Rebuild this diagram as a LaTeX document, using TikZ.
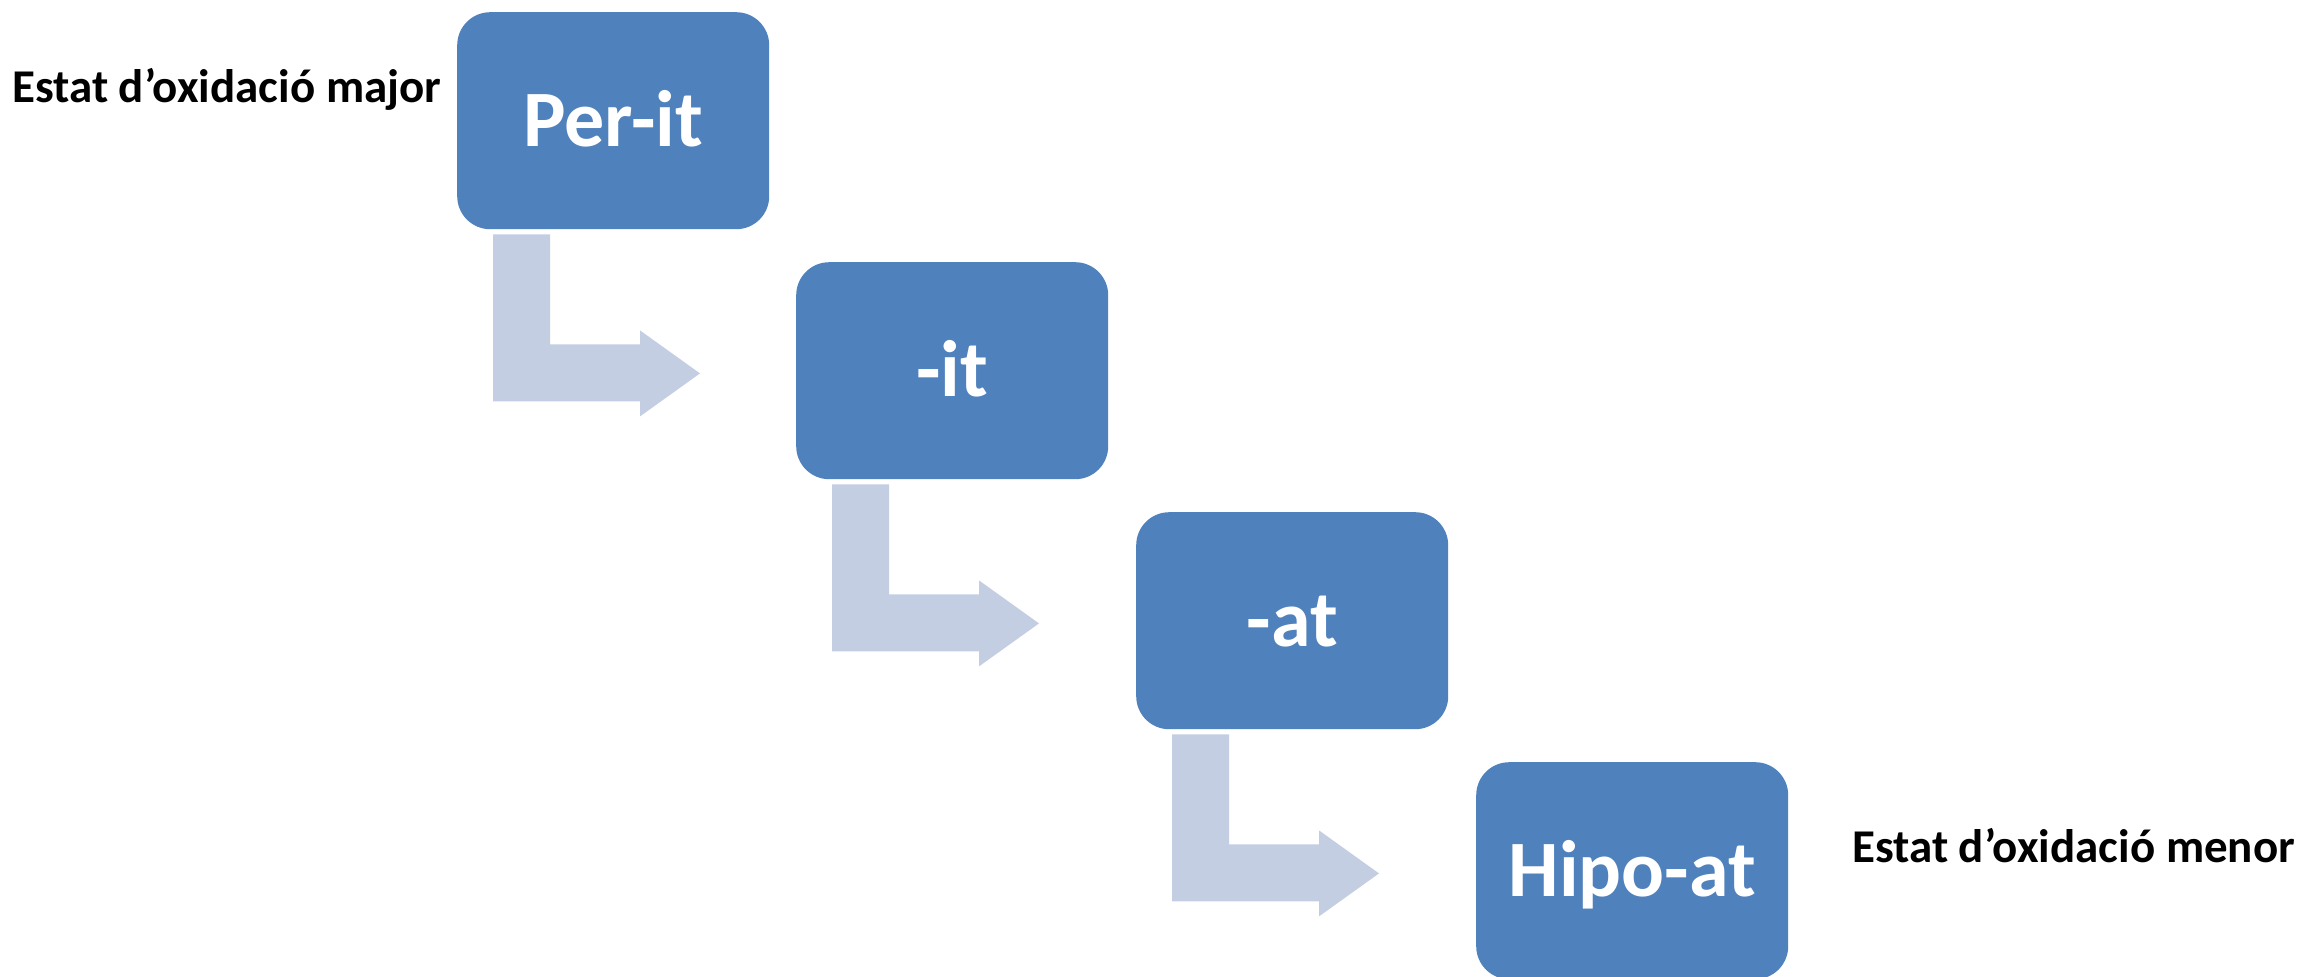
\documentclass[tikz,border=0pt]{standalone}
\usepackage{fontspec}
\setmainfont{Carlito}
\usetikzlibrary{calc}
\definecolor{boxblue}{HTML}{4F81BD}
\definecolor{arrowblue}{HTML}{C3CEE2}

\begin{document}
\begin{tikzpicture}[x=1pt,y=-1pt,
  stage/.style={fill=boxblue, rounded corners=33pt, minimum width=312pt,
    minimum height=217pt, inner sep=0pt, text height=51pt, text depth=0pt,
    text=white, font=\fontsize{80}{96}\selectfont\bfseries, anchor=north west},
  sidetext/.style={font=\fontsize{47}{56}\selectfont\bfseries, inner sep=0pt, anchor=base west},
  bent/.style={fill=arrowblue}
]
\useasboundingbox (0,0) rectangle (2308,977);
\clip (0,0) rectangle (2308,977);

% the four suffix stages
\node[stage] (s1) at (457,12)   {Per-it};
\node[stage] (s2) at (796,262)  {-it};
\node[stage] (s3) at (1136,512) {-at};
\node[stage] (s4) at (1476,762) {Hipo-at};

% bent arrows leading from each stage to the next
\foreach \a in {s1,s2,s3}{
  \fill[bent] ($(\a.south west)+(36,5)$) -- ++(57,0) -- ++(0,110) -- ++(90,0)
    -- ++(0,-14) -- ++(60,43) -- ++(-60,43) -- ++(0,-15) -- ++(-147,0) -- cycle;
}

% side captions
\node[sidetext] (hi) at (12,102)   {Estat d’oxidació major};
\node[sidetext] (lo) at (1852,862) {Estat d’oxidació menor};
\end{tikzpicture}
\end{document}
